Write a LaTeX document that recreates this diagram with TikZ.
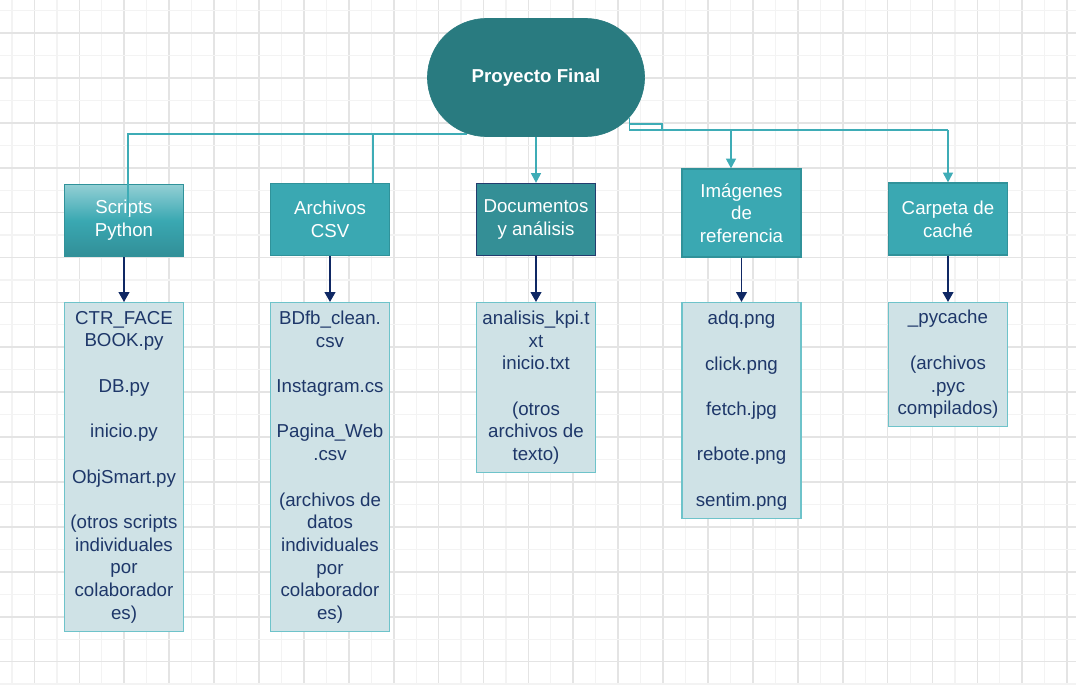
\documentclass[tikz,border=0pt]{standalone}
\usepackage{fontspec}
\setmainfont{Liberation Sans}
\usepackage{tikz}
\usetikzlibrary{arrows.meta}
\usetikzlibrary{calc}
\usetikzlibrary{positioning}

\definecolor{rootteal}{RGB}{41,123,128}
\definecolor{catteal}{RGB}{58,168,178}
\definecolor{catedge}{RGB}{48,146,154}
\definecolor{docsfill}{RGB}{52,143,150}
\definecolor{docsedge}{RGB}{35,60,110}
\definecolor{busteal}{RGB}{62,172,182}
\definecolor{leaffill}{RGB}{207,226,230}
\definecolor{leafedge}{RGB}{110,195,202}
\definecolor{navytext}{RGB}{30,55,105}
\definecolor{navyline}{RGB}{15,40,100}
\definecolor{gridmajor}{RGB}{228,228,228}
\definecolor{gridminor}{RGB}{243,243,243}

\tikzset{
    boxfont/.style={font=\fontsize{13.3}{16.15}\selectfont},
    rootbox/.style={draw=rootteal, fill=rootteal, text=white, font=\fontsize{13.3}{16.15}\selectfont\bfseries,
        minimum width=5.425cm, minimum height=2.95cm, rounded corners=1.47cm},
    catbox/.style={boxfont, draw=catedge, line width=0.8pt, fill=catteal, text=white, align=center,
        minimum width=2.975cm, minimum height=1.8cm, inner sep=1pt},
    filebox/.style={boxfont, draw=leafedge, line width=0.8pt, fill=leaffill, text=navytext, align=center,
        minimum width=2.975cm, anchor=north, inner sep=1pt},
    bus/.style={draw=busteal, line width=1.4pt},
    busarrow/.style={bus, -{Triangle[length=7pt,width=7pt]}},
    downarrow/.style={draw=navyline, line width=1.4pt, -{Triangle[length=7pt,width=7.5pt]}}
}

\begin{document}
\begin{tikzpicture}[x=0.025cm, y=-0.025cm]
    \useasboundingbox[fill=white] (0,0) rectangle (1076,684);

    % grid
    \foreach \g in {0,...,24} {
        \draw[gridminor, line width=0.8pt] ({12.05+44.9*\g},0) -- ++(0,684);
        \draw[gridmajor, line width=1.2pt] ({34.5+44.9*\g},0) -- ++(0,684);
    }
    \foreach \g in {0,...,15} {
        \draw[gridminor, line width=0.8pt] (0,{10.55+44.9*\g}) -- ++(1076,0);
        \draw[gridmajor, line width=1.2pt] (0,{33+44.9*\g}) -- ++(1076,0);
    }

    \node[catbox, top color=catteal!55!white, bottom color=catteal!85!black, middle color=catteal] (scripts) at (124,220.5) {Scripts\\Python};
    \node[catbox] (csv) at (330,219.5) {Archivos\\CSV};
    \node[catbox, fill=docsfill, draw=docsedge] (docs) at (536,219.5) {Documentos\\y análisis};
    \node[catbox, minimum height=2.2cm] (imag) at (741.5,213) {Imágenes\\de\\referencia};
    \node[catbox] (cache) at (948,219) {Carpeta de\\caché};

    % connectors from the root
    \coordinate (jl) at (467,134);
    \coordinate (sp) at (128,216);
    \coordinate (jc) at (373,134);
    \coordinate (jr) at (629.5,118);
    \coordinate (jloop) at (662,124);
    \draw[bus] (jl) -| (sp);
    \draw[bus] (jc) -- (jc |- csv.north);
    \draw[bus] (jr) -- ++(0,12) -- ++(318.5,0);
    \draw[bus] (jr |- jloop) -- (jloop) -- ++(0,6);
    \draw[busarrow] (731,130) -- (731,0 |- imag.north);
    \draw[busarrow] (cache.north |- 0,130) -- (cache.north);

    \node[rootbox] (root) at (536,77.5) {Proyecto Final};
    \draw[busarrow] (root.south) -- (docs.north);

    \node[filebox, minimum height=8.225cm] (scriptsfiles) at (124,302) {CTR\_FACE\\BOOK.py\\[16.15pt]DB.py\\[16.15pt]inicio.py\\[16.15pt]ObjSmart.py\\[16.15pt](otros scripts\\individuales\\por\\colaborador\\es)};
    \node[filebox, minimum height=8.225cm] (csvfiles) at (330,302) {BDfb\_clean.\\csv\\[16.15pt]Instagram.cs\\[16.15pt]Pagina\_Web\\.csv\\[16.15pt](archivos de\\datos\\individuales\\por\\colaborador\\es)};
    \node[filebox, minimum height=4.25cm] (docsfiles) at (536,302) {analisis\_kpi.t\\xt\\inicio.txt\\[16.15pt](otros\\archivos de\\texto)};
    \node[filebox, minimum height=5.4cm] (imagfiles) at (741.5,302) {adq.png\\[16.15pt]click.png\\[16.15pt]fetch.jpg\\[16.15pt]rebote.png\\[16.15pt]sentim.png};
    \node[filebox, minimum height=3.1cm] (cachefiles) at (948,302) {\_pycache\\[16.15pt](archivos\\.pyc\\compilados)};

    \draw[downarrow] (scripts) -- (scriptsfiles);
    \draw[downarrow] (csv) -- (csvfiles);
    \draw[downarrow] (docs) -- (docsfiles);
    \draw[downarrow] (imag) -- (imagfiles);
    \draw[downarrow] (cache) -- (cachefiles);
\end{tikzpicture}
\end{document}
